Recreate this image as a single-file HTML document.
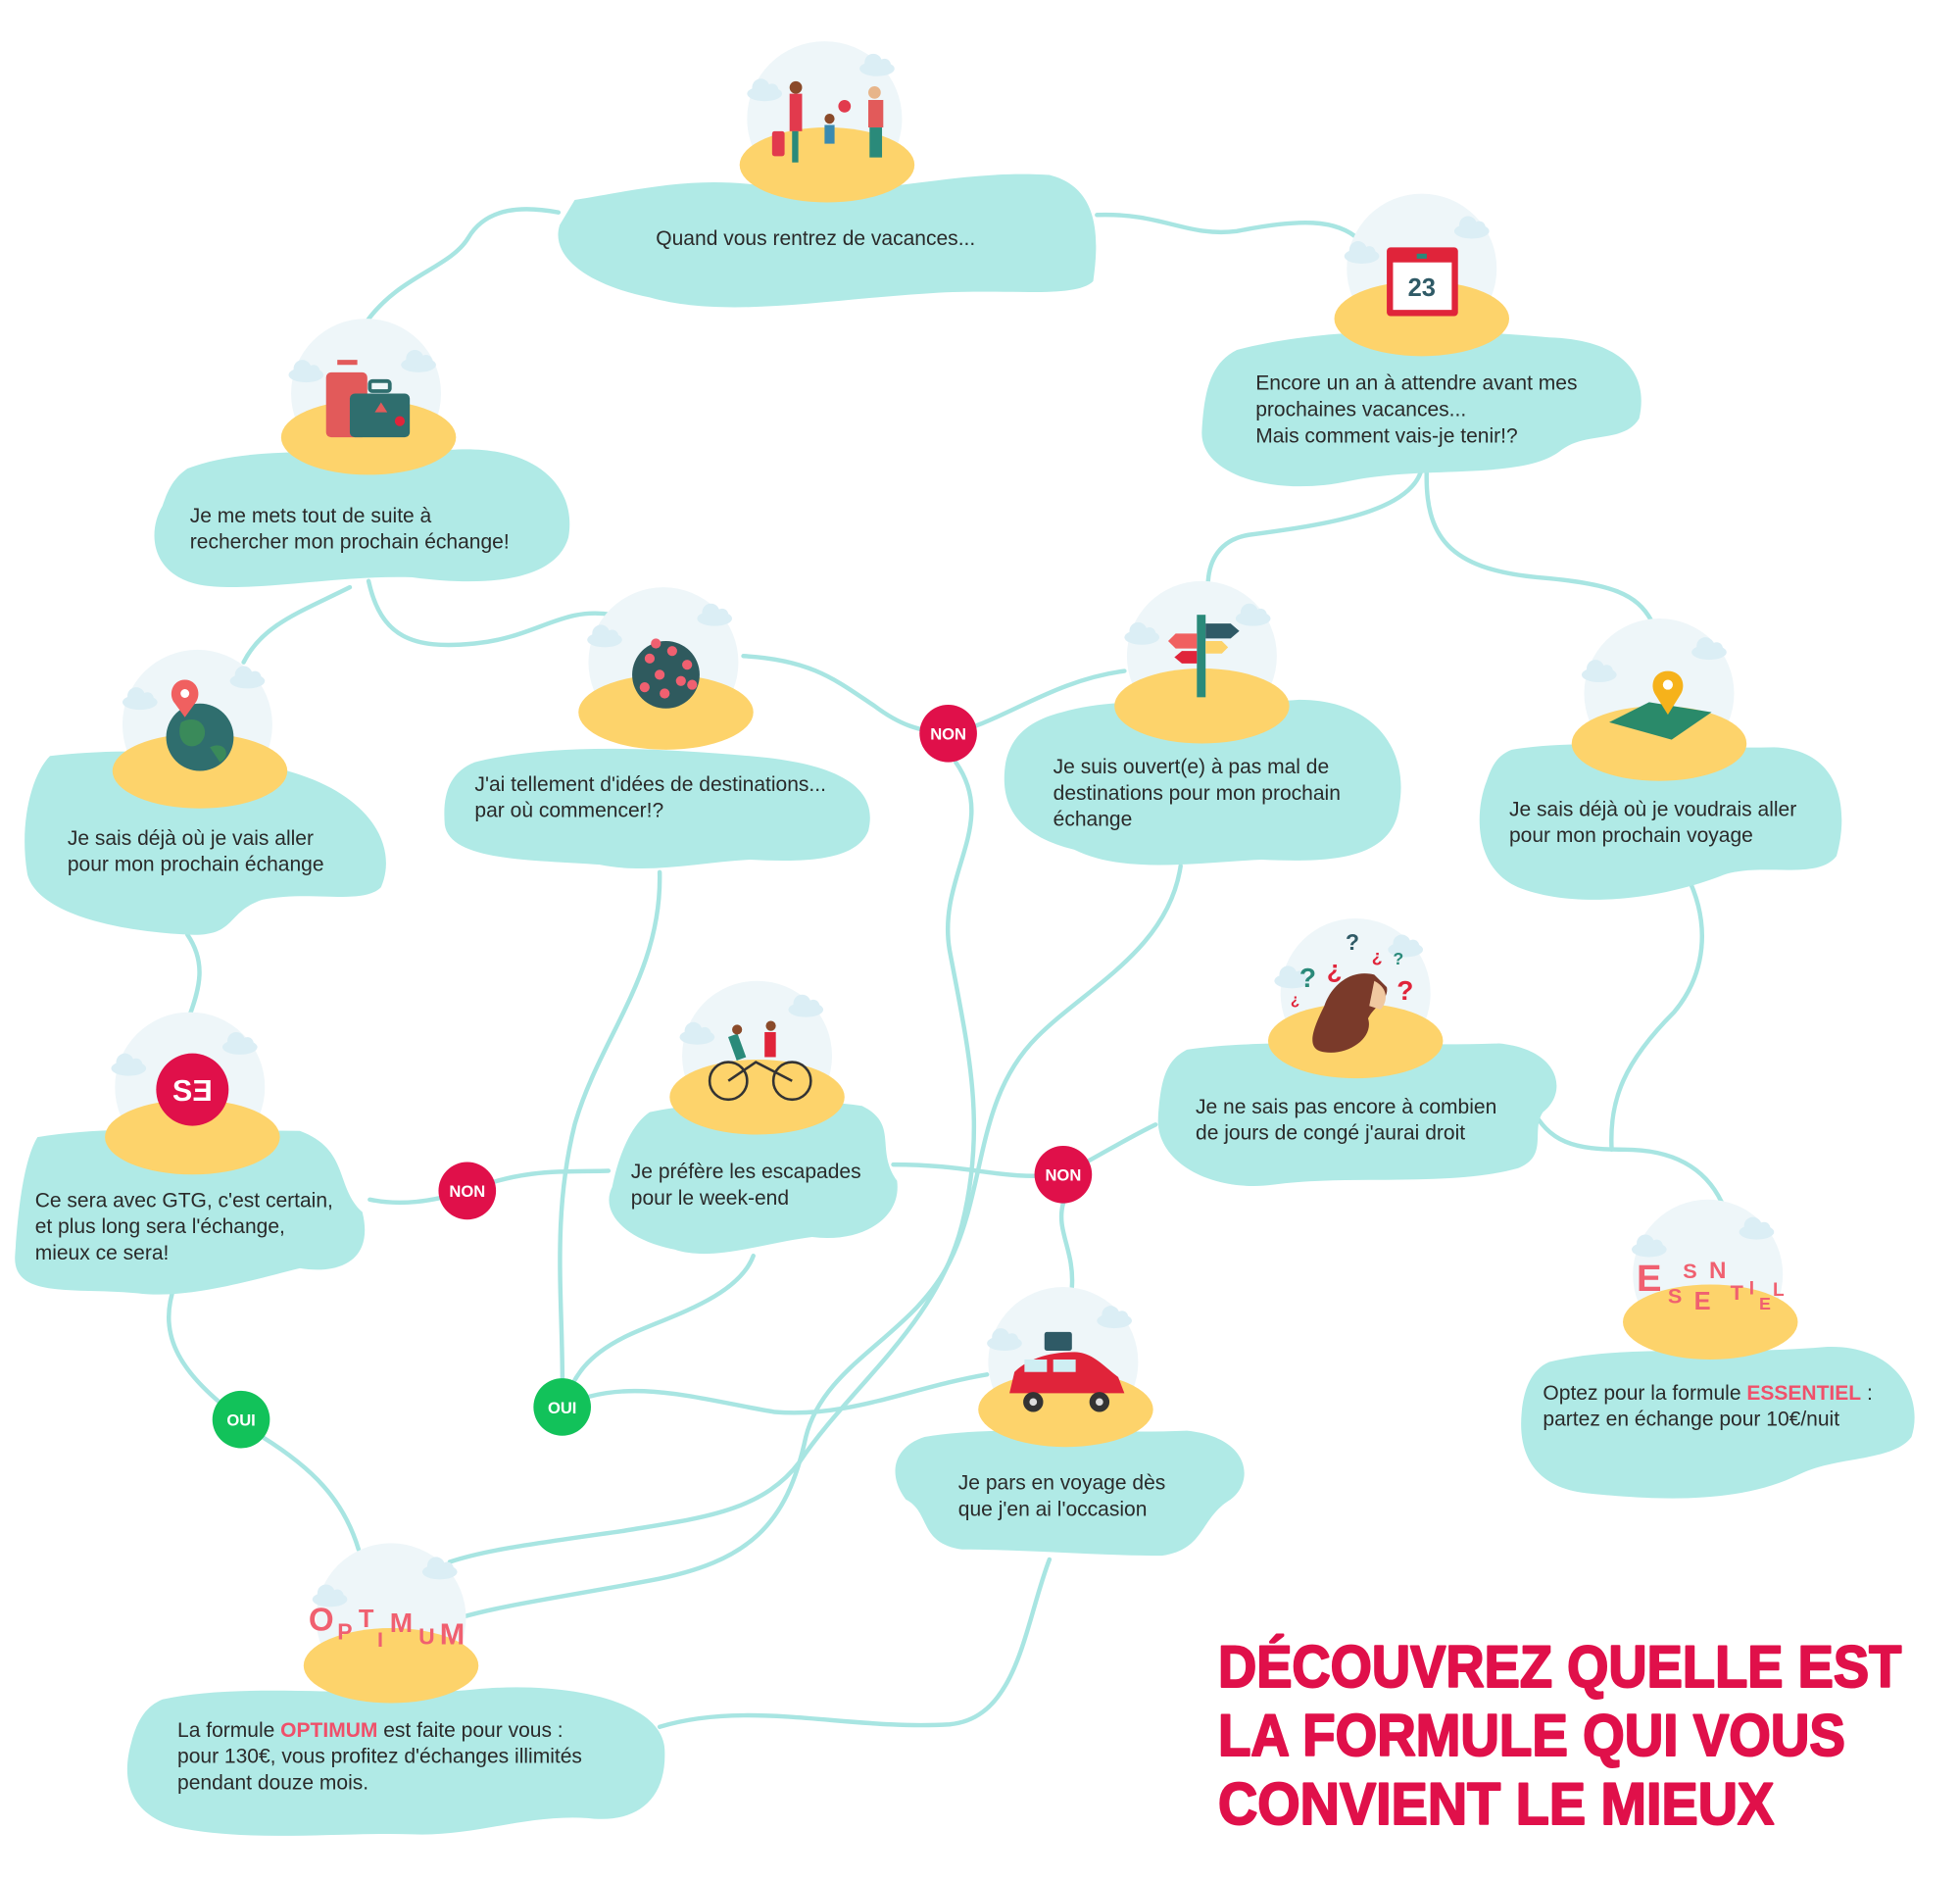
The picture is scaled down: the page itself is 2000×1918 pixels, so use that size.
<!DOCTYPE html>
<html><head><meta charset="utf-8"><style>
html,body{margin:0;padding:0;background:#fff;}
svg{display:block}
.t{font-family:"Liberation Sans",sans-serif;font-size:16.5px;fill:#2a2a2a}
.c{fill:none;stroke:#a8e5e2;stroke-width:3.5;stroke-linecap:round}
.b{fill:#b0eae6}
.sky{fill:#eef6f9}
.sand{fill:#fdd36b}
.cl{fill:#dbeef5}
.bt{font-family:"Liberation Sans",sans-serif;font-weight:bold;font-size:13px;fill:#fff}
</style></head><body>
<svg width="2000" height="1918" viewBox="0 0 1550 1486.5" preserveAspectRatio="none" xmlns="http://www.w3.org/2000/svg">
<defs>
<g id="cloud"><ellipse cx="0" cy="0" rx="14" ry="6"/><circle cx="-3" cy="-5" r="7"/><circle cx="6" cy="-3" r="5"/></g>
</defs>
<g transform="scale(0.988)">
<!-- connectors -->
<path class="c" d="M293,258 C320,220 360,215 375,190 C390,165 420,165 447,170"/>
<path class="c" d="M878,172 C930,170 950,190 990,185 C1040,175 1070,175 1088,192"/>
<path class="c" d="M1138,375 C1130,410 1060,420 1000,428 C975,432 968,450 967,465"/>
<path class="c" d="M1142,375 C1140,430 1160,455 1230,462 C1290,467 1310,475 1322,497"/>
<path class="c" d="M280,470 C240,490 210,500 195,530"/>
<path class="c" d="M295,465 C305,510 330,520 380,515 C430,510 450,485 490,492"/>
<path class="c" d="M595,525 C650,528 670,545 700,565 C720,580 735,585 759,587"/>
<path class="c" d="M759,587 C800,580 840,545 900,537"/>
<path class="c" d="M765,610 C800,660 750,700 760,760 C775,840 790,900 770,980 C750,1060 680,1110 640,1170 C610,1210 560,1215 500,1225 C430,1235 390,1240 360,1250"/>
<path class="c" d="M945,693 C935,760 870,790 830,830 C780,880 790,950 760,1010 C730,1070 660,1090 645,1150 C630,1220 600,1250 520,1265 C450,1278 400,1285 367,1295"/>
<path class="c" d="M1350,700 C1370,740 1365,780 1340,810 C1300,850 1288,880 1290,920"/>
<path class="c" d="M1225,885 C1240,915 1260,920 1300,920 C1340,920 1365,935 1378,962"/>
<path class="c" d="M925,900 C900,912 880,925 851,940"/>
<path class="c" d="M851,940 C800,945 780,932 715,932"/>
<path class="c" d="M851,963 C845,985 860,1000 858,1030"/>
<path class="c" d="M150,748 C165,770 160,790 152,812"/>
<path class="c" d="M296,960 C320,965 345,962 374,953"/>
<path class="c" d="M374,953 C420,935 450,938 487,937"/>
<path class="c" d="M140,1028 C125,1070 145,1100 193,1136"/>
<path class="c" d="M210,1150 C250,1175 275,1200 287,1240"/>
<path class="c" d="M528,698 C530,780 480,830 460,900 C440,980 452,1050 450,1126"/>
<path class="c" d="M603,1005 C590,1040 530,1055 500,1070 C470,1085 460,1100 450,1126"/>
<path class="c" d="M450,1126 C500,1100 560,1120 620,1130 C680,1135 730,1110 790,1100"/>
<path class="c" d="M840,1248 C820,1300 815,1375 760,1380 C680,1385 600,1360 528,1382"/>

<!-- blobs -->
<path class="b" d="M460,160 C520,150 560,140 620,150 C700,160 760,135 840,140 C880,150 880,190 875,225 C860,240 800,230 740,235 C660,240 580,255 520,238 C470,228 440,205 448,180 Z"/>
<path class="b" d="M990,280 C1060,262 1150,262 1240,270 C1300,272 1320,300 1312,335 C1300,355 1270,345 1250,360 C1220,385 1140,372 1080,385 C1020,398 960,380 962,345 C964,310 970,290 990,280 Z"/>
<path class="b" d="M150,375 C210,352 300,368 360,360 C430,355 462,390 455,430 C445,465 390,470 330,462 C270,460 200,475 160,468 C120,460 118,425 130,405 C135,390 140,382 150,375 Z"/>
<path class="b" d="M40,605 C100,598 180,600 240,620 C300,640 318,680 305,710 C290,725 250,712 210,720 C180,730 190,750 150,748 C90,745 30,730 22,700 C15,660 25,620 40,605 Z"/>
<path class="b" d="M380,610 C440,595 520,598 600,605 C660,610 705,625 695,665 C685,690 640,690 600,688 C560,690 520,700 480,692 C430,688 360,690 356,660 C354,635 360,618 380,610 Z"/>
<path class="b" d="M850,570 C900,555 980,565 1040,560 C1100,560 1128,600 1120,645 C1115,690 1060,690 1010,688 C960,690 900,700 860,680 C810,668 800,640 805,610 C810,585 830,575 850,570 Z"/>
<path class="b" d="M1210,600 C1270,590 1350,600 1420,598 C1475,600 1480,650 1470,685 C1455,705 1410,690 1380,700 C1330,720 1260,728 1215,710 C1180,695 1180,650 1190,625 C1195,610 1200,604 1210,600 Z"/>
<path class="b" d="M950,840 C1020,830 1120,838 1200,835 C1250,840 1255,875 1235,890 C1225,905 1240,925 1215,935 C1160,950 1080,940 1020,948 C970,955 925,930 927,895 C929,860 935,848 950,840 Z"/>
<path class="b" d="M30,910 C90,900 170,905 240,905 C280,920 268,950 290,970 C300,1010 270,1020 240,1015 C200,1025 150,1040 110,1035 C60,1030 10,1040 12,1005 C14,975 18,930 30,910 Z"/>
<path class="b" d="M520,890 C570,880 640,878 690,885 C720,900 700,920 718,945 C722,975 690,995 650,990 C610,995 570,1010 540,1000 C500,992 480,970 490,950 C495,925 505,900 520,890 Z"/>
<path class="b" d="M740,1150 C800,1140 880,1148 950,1145 C1000,1150 1005,1185 985,1200 C960,1215 965,1240 930,1245 C880,1245 820,1240 770,1240 C735,1235 745,1210 725,1200 C710,1180 715,1158 740,1150 Z"/>
<path class="b" d="M1240,1090 C1300,1075 1380,1085 1460,1078 C1520,1075 1540,1120 1530,1150 C1515,1170 1470,1165 1440,1180 C1390,1205 1320,1200 1270,1195 C1225,1190 1215,1160 1218,1130 C1220,1108 1228,1095 1240,1090 Z"/>
<path class="b" d="M130,1360 C200,1345 300,1360 380,1352 C450,1345 530,1360 532,1400 C534,1440 510,1460 470,1455 C420,1452 380,1470 330,1468 C270,1466 200,1475 140,1462 C100,1450 98,1420 105,1395 C110,1375 118,1365 130,1360 Z"/>

<!-- islands -->
<g>
<circle class="sky" cx="660" cy="95" r="62"/><ellipse class="sand" cx="662" cy="132" rx="70" ry="30"/>
<circle class="sky" cx="1138" cy="215" r="60"/><ellipse class="sand" cx="1138" cy="255" rx="70" ry="30"/>
<circle class="sky" cx="293" cy="315" r="60"/><ellipse class="sand" cx="295" cy="350" rx="70" ry="30"/>
<circle class="sky" cx="158" cy="580" r="60"/><ellipse class="sand" cx="160" cy="617" rx="70" ry="30"/>
<circle class="sky" cx="531" cy="530" r="60"/><ellipse class="sand" cx="533" cy="570" rx="70" ry="30"/>
<circle class="sky" cx="962" cy="525" r="60"/><ellipse class="sand" cx="962" cy="565" rx="70" ry="30"/>
<circle class="sky" cx="1328" cy="555" r="60"/><ellipse class="sand" cx="1328" cy="595" rx="70" ry="30"/>
<circle class="sky" cx="1085" cy="795" r="60"/><ellipse class="sand" cx="1085" cy="833" rx="70" ry="30"/>
<circle class="sky" cx="152" cy="870" r="60"/><ellipse class="sand" cx="154" cy="910" rx="70" ry="30"/>
<circle class="sky" cx="606" cy="845" r="60"/><ellipse class="sand" cx="606" cy="878" rx="70" ry="30"/>
<circle class="sky" cx="851" cy="1090" r="60"/><ellipse class="sand" cx="853" cy="1128" rx="70" ry="30"/>
<circle class="sky" cx="1367" cy="1020" r="60"/><ellipse class="sand" cx="1369" cy="1058" rx="70" ry="30"/>
<circle class="sky" cx="313" cy="1295" r="60"/><ellipse class="sand" cx="313" cy="1333" rx="70" ry="30"/>
</g>
<g class="cl">
<use href="#cloud" x="612" y="75"/><use href="#cloud" x="702" y="55"/>
<use href="#cloud" x="1090" y="205"/><use href="#cloud" x="1178" y="185"/>
<use href="#cloud" x="245" y="300"/><use href="#cloud" x="335" y="292"/>
<use href="#cloud" x="112" y="562"/><use href="#cloud" x="198" y="545"/>
<use href="#cloud" x="484" y="512"/><use href="#cloud" x="572" y="495"/>
<use href="#cloud" x="914" y="510"/><use href="#cloud" x="1003" y="495"/>
<use href="#cloud" x="1280" y="540"/><use href="#cloud" x="1368" y="522"/>
<use href="#cloud" x="1034" y="785"/><use href="#cloud" x="1125" y="760"/>
<use href="#cloud" x="103" y="855"/><use href="#cloud" x="192" y="838"/>
<use href="#cloud" x="558" y="830"/><use href="#cloud" x="645" y="808"/>
<use href="#cloud" x="804" y="1075"/><use href="#cloud" x="892" y="1057"/>
<use href="#cloud" x="1320" y="1000"/><use href="#cloud" x="1406" y="986"/>
<use href="#cloud" x="264" y="1280"/><use href="#cloud" x="352" y="1258"/>
</g>

<!-- icons -->
<rect x="618" y="105" width="10" height="20" rx="2" fill="#e23a4d"/>
<rect x="632" y="75" width="10" height="30" fill="#e23a4d"/><rect x="634" y="105" width="5" height="25" fill="#2a8a7a"/><circle cx="637" cy="70" r="5" fill="#8a4a2a"/>
<rect x="660" y="100" width="8" height="15" fill="#3a8ab0"/><circle cx="664" cy="95" r="4" fill="#8a4a2a"/>
<circle cx="676" cy="85" r="5" fill="#e23a4d"/>
<rect x="695" y="80" width="12" height="22" fill="#e25a5a"/><rect x="696" y="102" width="10" height="24" fill="#2a8a7a"/><circle cx="700" cy="74" r="5" fill="#e7b58a"/>
<rect x="1110" y="198" width="57" height="55" rx="3" fill="#e0243a"/><rect x="1115" y="210" width="47" height="38" fill="#fff"/>
<rect x="1134" y="203" width="8" height="4" fill="#2a8a7a"/>
<text x="1138" y="237" text-anchor="middle" font-family="Liberation Sans,sans-serif" font-weight="bold" font-size="20" fill="#2f5a66">23</text>
<rect x="261" y="298" width="33" height="52" rx="4" fill="#e25a5a"/><rect x="270" y="288" width="16" height="4" fill="#e25a5a"/>
<rect x="280" y="315" width="48" height="35" rx="4" fill="#2f6e6e"/><rect x="296" y="305" width="16" height="8" rx="2" fill="none" stroke="#2f6e6e" stroke-width="3"/>
<polygon points="300,330 305,322 310,330" fill="#e25a5a"/><circle cx="320" cy="337" r="4" fill="#e0243a"/>
<circle cx="160" cy="590" r="27" fill="#2f6e6e"/><path d="M145,578 C160,570 170,585 160,595 C150,602 140,592 145,578Z" fill="#3a8a5a"/><path d="M168,598 C180,592 186,605 176,610Z" fill="#3a8a5a"/>
<path d="M148,544 C138,544 134,556 140,563 L148,574 L156,563 C162,556 158,544 148,544Z" fill="#f06060"/><circle cx="148" cy="555" r="3.5" fill="#fff"/>
<circle cx="533" cy="540" r="27" fill="#2f5a5e"/>
<g fill="#f06070"><circle cx="520" cy="527" r="4"/><circle cx="538" cy="521" r="4"/><circle cx="550" cy="532" r="4"/><circle cx="528" cy="540" r="4"/><circle cx="545" cy="545" r="4"/><circle cx="516" cy="550" r="4"/><circle cx="532" cy="555" r="4"/><circle cx="554" cy="548" r="4"/><circle cx="525" cy="515" r="4"/></g>
<rect x="958" y="492" width="7" height="66" fill="#2a8a7a"/><polygon points="965,499 985,499 992,505 985,511 965,511" fill="#2f5a66"/>
<polygon points="958,507 941,507 935,513 941,519 958,519" fill="#f06060"/><polygon points="958,521 946,521 940,526 946,531 958,531" fill="#e0243a"/><polygon points="965,513 978,513 983,518 978,523 965,523" fill="#fdd36b"/>
<polygon points="1288,578 1320,562 1370,570 1338,592" fill="#2a8a6a"/>
<path d="M1335,537 C1324,537 1320,548 1325,556 L1335,572 L1345,556 C1350,548 1346,537 1335,537Z" fill="#f6b21b"/><circle cx="1335" cy="548" r="4" fill="#fff"/>
<path d="M1100,780 C1080,775 1065,790 1060,805 C1050,825 1045,840 1060,842 C1080,845 1100,830 1095,815 C1100,805 1112,800 1110,790Z" fill="#7a3a2a"/>
<path d="M1100,785 C1110,790 1112,800 1105,808 L1096,805Z" fill="#f0c8a0"/>
<g font-family="Liberation Sans,sans-serif" font-weight="bold">
<text x="1040" y="790" font-size="22" fill="#2a8a7a">?</text><text x="1062" y="783" font-size="20" fill="#e0243a">¿</text>
<text x="1077" y="760" font-size="18" fill="#2f5a66">?</text><text x="1098" y="770" font-size="14" fill="#e0243a">¿</text>
<text x="1115" y="772" font-size="14" fill="#2a8a7a">?</text><text x="1118" y="800" font-size="22" fill="#e0243a">?</text>
<text x="1033" y="804" font-size="12" fill="#e0243a">¿</text></g>
<circle cx="154" cy="872" r="29" fill="#e0104a"/>
<text x="154" y="881" text-anchor="middle" font-family="Liberation Sans,sans-serif" font-weight="bold" font-size="24" fill="#fff">SƎ</text>
<circle cx="583" cy="865" r="15" fill="none" stroke="#333" stroke-width="2"/><circle cx="634" cy="865" r="15" fill="none" stroke="#333" stroke-width="2"/>
<path d="M583,865 L605,850 L634,865" stroke="#333" stroke-width="2" fill="none"/>
<rect x="586" y="828" width="8" height="20" fill="#2a8a7a" transform="rotate(-20 590 838)"/><circle cx="590" cy="824" r="4" fill="#8a4a2a"/>
<rect x="612" y="826" width="9" height="20" fill="#e0243a"/><circle cx="617" cy="821" r="4" fill="#8a4a2a"/>
<path d="M808,1115 L812,1098 C820,1090 835,1082 860,1082 C875,1082 885,1095 895,1102 L900,1115 Z" fill="#e0243a"/>
<rect x="820" y="1088" width="18" height="10" fill="#cfeef3"/><rect x="843" y="1088" width="18" height="10" fill="#cfeef3"/>
<rect x="836" y="1066" width="22" height="15" rx="2" fill="#2f5a66"/>
<circle cx="827" cy="1122" r="8" fill="#333"/><circle cx="827" cy="1122" r="3" fill="#ddd"/><circle cx="880" cy="1122" r="8" fill="#333"/><circle cx="880" cy="1122" r="3" fill="#ddd"/>
<g font-family="Liberation Sans,sans-serif" font-weight="bold" fill="#f06070">
<text x="1310" y="1033" font-size="30">E</text><text x="1347" y="1023" font-size="17">S</text><text x="1335" y="1043" font-size="17">S</text>
<text x="1368" y="1023" font-size="19">N</text><text x="1356" y="1048" font-size="20">E</text><text x="1385" y="1040" font-size="17">T</text>
<text x="1400" y="1036" font-size="15">I</text><text x="1408" y="1048" font-size="14">E</text><text x="1419" y="1037" font-size="15">L</text></g>
<g font-family="Liberation Sans,sans-serif" font-weight="bold" fill="#f06070">
<text x="247" y="1305" font-size="26">O</text><text x="270" y="1312" font-size="18">P</text><text x="287" y="1302" font-size="20">T</text>
<text x="302" y="1318" font-size="17">I</text><text x="312" y="1306" font-size="22">M</text><text x="335" y="1316" font-size="18">U</text><text x="352" y="1316" font-size="24">M</text></g>

<!-- texts -->
<g class="t">
<text x="525" y="196">Quand vous rentrez de vacances...</text>
<text x="1005" y="312">Encore un an à attendre avant mes</text>
<text x="1005" y="333">prochaines vacances...</text>
<text x="1005" y="354">Mais comment vais-je tenir!?</text>
<text x="152" y="418">Je me mets tout de suite à</text>
<text x="152" y="439">rechercher mon prochain échange!</text>
<text x="54" y="676">Je sais déjà où je vais aller</text>
<text x="54" y="697">pour mon prochain échange</text>
<text x="380" y="633">J'ai tellement d'idées de destinations...</text>
<text x="380" y="654">par où commencer!?</text>
<text x="843" y="619">Je suis ouvert(e) à pas mal de</text>
<text x="843" y="640">destinations pour mon prochain</text>
<text x="843" y="661">échange</text>
<text x="1208" y="653">Je sais déjà où je voudrais aller</text>
<text x="1208" y="674">pour mon prochain voyage</text>
<text x="957" y="891">Je ne sais pas encore à combien</text>
<text x="957" y="912">de jours de congé j'aurai droit</text>
<text x="28" y="966">Ce sera avec GTG, c'est certain,</text>
<text x="28" y="987">et plus long sera l'échange,</text>
<text x="28" y="1008">mieux ce sera!</text>
<text x="505" y="943">Je préfère les escapades</text>
<text x="505" y="964">pour le week-end</text>
<text x="767" y="1192">Je pars en voyage dès</text>
<text x="767" y="1213">que j'en ai l'occasion</text>
<text x="1235" y="1120">Optez pour la formule <tspan fill="#f0506a" font-weight="bold">ESSENTIEL</tspan> :</text>
<text x="1235" y="1141">partez en échange pour 10€/nuit</text>
<text x="142" y="1390">La formule <tspan fill="#f0506a" font-weight="bold">OPTIMUM</tspan> est faite pour vous :</text>
<text x="142" y="1411">pour 130€, vous profitez d'échanges illimités</text>
<text x="142" y="1432">pendant douze mois.</text>
</g>

<circle cx="759" cy="587" r="23" fill="#e0104a"/><text class="bt" x="759" y="592" text-anchor="middle">NON</text>
<circle cx="374" cy="953" r="23" fill="#e0104a"/><text class="bt" x="374" y="958" text-anchor="middle">NON</text>
<circle cx="851" cy="940" r="23" fill="#e0104a"/><text class="bt" x="851" y="945" text-anchor="middle">NON</text>
<circle cx="193" cy="1136" r="23" fill="#12c25a"/><text class="bt" x="193" y="1141" text-anchor="middle">OUI</text>
<circle cx="450" cy="1126" r="23" fill="#12c25a"/><text class="bt" x="450" y="1131" text-anchor="middle">OUI</text>

<g font-family="Liberation Sans,sans-serif" font-weight="bold" font-size="47" fill="#e0104a" stroke="#e0104a" stroke-width="1.6" stroke-linejoin="round">
<text x="975" y="1350" textLength="547" lengthAdjust="spacingAndGlyphs">DÉCOUVREZ QUELLE EST</text>
<text x="975" y="1405" textLength="502" lengthAdjust="spacingAndGlyphs">LA FORMULE QUI VOUS</text>
<text x="975" y="1460" textLength="445" lengthAdjust="spacingAndGlyphs">CONVIENT LE MIEUX</text>
</g>
</g>
</svg>
</body></html>
